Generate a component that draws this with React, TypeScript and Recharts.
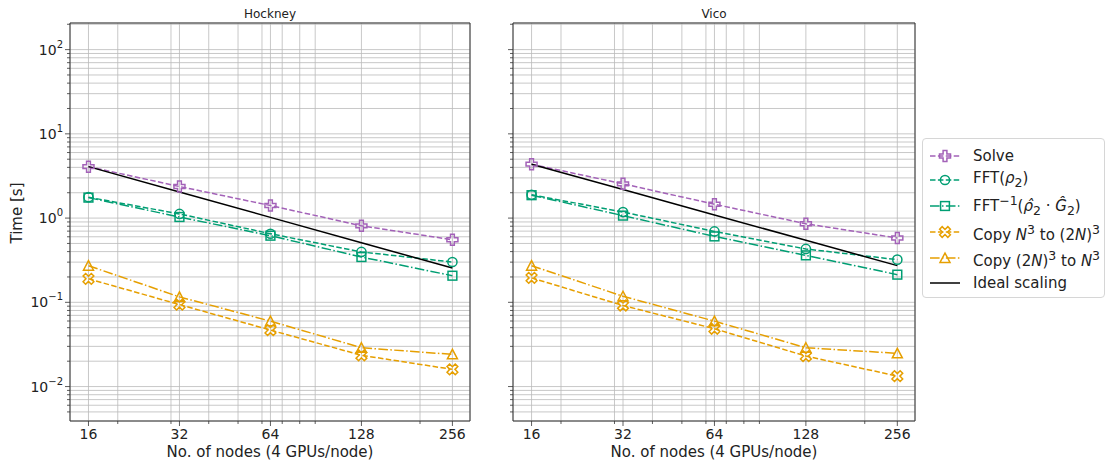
import { LineChart, Line, XAxis, YAxis, CartesianGrid, ReferenceArea } from "recharts"

const nodes = [16, 32, 64, 128, 256]

const hockneySolve = [4.08, 2.37, 1.41, 0.81, 0.553]
const hockneyFft = [1.77, 1.12, 0.652, 0.396, 0.301]
const hockneyIfft = [1.75, 1.03, 0.618, 0.345, 0.207]
const hockneyCopyUp = [0.19, 0.094, 0.0468, 0.0235, 0.016]
const hockneyCopyDown = [0.272, 0.116, 0.0598, 0.0289, 0.0241]
const hockneyIdeal = [4.08, 2.04, 1.02, 0.51, 0.255]

const vicoSolve = [4.36, 2.55, 1.46, 0.856, 0.58]
const vicoFft = [1.89, 1.18, 0.694, 0.43, 0.321]
const vicoIfft = [1.87, 1.07, 0.606, 0.361, 0.213]
const vicoCopyUp = [0.195, 0.0916, 0.0486, 0.023, 0.0133]
const vicoCopyDown = [0.272, 0.118, 0.0598, 0.0289, 0.0248]
const vicoIdeal = [4.36, 2.18, 1.09, 0.545, 0.2725]

const xMajor = [16, 32, 64, 128, 256]
const xMinor = [20, 30, 40, 50, 60, 70, 80, 90, 200]
const yMajor = [0.01, 0.1, 1, 10, 100]
const yMinor = [
  0.005, 0.006, 0.007, 0.008, 0.009,
  0.02, 0.03, 0.04, 0.05, 0.06, 0.07, 0.08, 0.09,
  0.2, 0.3, 0.4, 0.5, 0.6, 0.7, 0.8, 0.9,
  2, 3, 4, 5, 6, 7, 8, 9,
  20, 30, 40, 50, 60, 70, 80, 90,
  200,
]

const X_DOMAIN: [number, number] = [13.9, 292.7]
const Y_DOMAIN: [number, number] = [0.0039, 207]

const PURPLE = "#a362b8"
const GREEN = "#009e73"
const ORANGE = "#e69f00"
const FONT = "DejaVu Sans, sans-serif"
const DASH = "5.5 2.4"
const DASHDOT = "9.6 2.4 1.5 2.4"

const xTicks = [...xMajor, ...xMinor].sort((a, b) => a - b)
const yTicks = [...yMajor, ...yMinor].sort((a, b) => a - b)

function buildRows(solve: number[], fft: number[], ifft: number[], up: number[], down: number[], ideal: number[]) {
  return nodes.map((n, i) => ({
    n,
    solve: solve[i],
    fft: fft[i],
    ifft: ifft[i],
    up: up[i],
    down: down[i],
    ideal: ideal[i],
  }))
}

const hockneyRows = buildRows(hockneySolve, hockneyFft, hockneyIfft, hockneyCopyUp, hockneyCopyDown, hockneyIdeal)
const vicoRows = buildRows(vicoSolve, vicoFft, vicoIfft, vicoCopyUp, vicoCopyDown, vicoIdeal)

type Shape = "plus" | "circle" | "square" | "x" | "triangle"

function plusPath(cx: number, cy: number, s: number, a: number) {
  return `M${cx - a},${cy - s}H${cx + a}V${cy - a}H${cx + s}V${cy + a}H${cx + a}V${cy + s}H${cx - a}V${cy + a}H${cx - s}V${cy - a}H${cx - a}Z`
}

function Marker({ shape, cx, cy, color }: { shape: Shape; cx: number; cy: number; color: string }) {
  const common = { fill: "none", stroke: color, strokeWidth: 1.5 }
  if (shape === "plus") return <path d={plusPath(cx, cy, 5.5, 1.9)} {...common} />
  if (shape === "x")
    return <path d={plusPath(cx, cy, 5.8, 1.8)} transform={`rotate(45 ${cx} ${cy})`} {...common} />
  if (shape === "circle") return <circle cx={cx} cy={cy} r={4.6} {...common} />
  if (shape === "square") return <rect x={cx - 4.4} y={cy - 4.4} width={8.8} height={8.8} {...common} />
  return <path d={`M${cx},${cy - 5}L${cx + 5},${cy + 4.5}L${cx - 5},${cy + 4.5}Z`} {...common} />
}

const dotFor = (shape: Shape, color: string) => (p: any) => (
  <g key={`${shape}-${p.index}`}>
    <Marker shape={shape} cx={p.cx} cy={p.cy} color={color} />
  </g>
)

function fmtExp(v: number) {
  const e = Math.round(Math.log10(v))
  return e < 0 ? "\u2212" + -e : String(e)
}

function YTick(props: any) {
  const { x, y, payload, showLabel } = props
  const v = payload.value
  const major = yMajor.includes(v)
  return (
    <g>
      <line x1={x} x2={x - (major ? 5 : 3)} y1={y} y2={y} stroke="#333" strokeWidth={0.8} />
      {major && showLabel && (
        <text x={x - 7} y={y + 5} textAnchor="end" fontSize={14} fill="#222" fontFamily={FONT}>
          <tspan>10</tspan>
          <tspan dy={-7} fontSize={10}>{fmtExp(v)}</tspan>
        </text>
      )}
    </g>
  )
}

function XTick(props: any) {
  const { x, y, payload } = props
  const v = payload.value
  const major = xMajor.includes(v)
  return (
    <g>
      <line x1={x} x2={x} y1={y} y2={y + (major ? 5 : 3)} stroke="#333" strokeWidth={0.8} />
      {major && (
        <text x={x} y={y + 18} textAnchor="middle" fontSize={14} fill="#222" fontFamily={FONT}>
          {v}
        </text>
      )}
    </g>
  )
}

function Panel({ rows, yWidth, width, showLabels }: { rows: any[]; yWidth: number; width: number; showLabels: boolean }) {
  return (
    <LineChart width={width} height={465} data={rows} margin={{ top: 23, right: 10, bottom: 0, left: 0 }}>
      <CartesianGrid stroke="#bababa" strokeWidth={0.8} />
      <XAxis
        dataKey="n"
        type="number"
        scale="log"
        domain={X_DOMAIN}
        allowDataOverflow
        ticks={xTicks}
        interval={0}
        tickSize={0}
        tickMargin={0}
        tickLine={false}
        axisLine={false}
        height={44}
        tick={<XTick />}
      />
      <YAxis
        type="number"
        scale="log"
        domain={Y_DOMAIN}
        allowDataOverflow
        ticks={yTicks}
        interval={0}
        tickSize={0}
        tickMargin={0}
        tickLine={false}
        axisLine={false}
        width={yWidth}
        tick={<YTick showLabel={showLabels} />}
      />
      <Line dataKey="solve" stroke={PURPLE} strokeWidth={1.5} strokeDasharray={DASH} dot={dotFor("plus", PURPLE)} isAnimationActive={false} />
      <Line dataKey="fft" stroke={GREEN} strokeWidth={1.5} strokeDasharray={DASH} dot={dotFor("circle", GREEN)} isAnimationActive={false} />
      <Line dataKey="ifft" stroke={GREEN} strokeWidth={1.5} strokeDasharray={DASHDOT} dot={dotFor("square", GREEN)} isAnimationActive={false} />
      <Line dataKey="up" stroke={ORANGE} strokeWidth={1.5} strokeDasharray={DASH} dot={dotFor("x", ORANGE)} isAnimationActive={false} />
      <Line dataKey="down" stroke={ORANGE} strokeWidth={1.5} strokeDasharray={DASHDOT} dot={dotFor("triangle", ORANGE)} isAnimationActive={false} />
      <Line dataKey="ideal" stroke="#000" strokeWidth={1.5} dot={false} isAnimationActive={false} />
      <ReferenceArea
        x1={X_DOMAIN[0]}
        x2={X_DOMAIN[1]}
        y1={Y_DOMAIN[0]}
        y2={Y_DOMAIN[1]}
        fill="none"
        stroke="#333"
        strokeWidth={1}
        ifOverflow="visible"
      />
    </LineChart>
  )
}

const legendItems: { shape: Shape | null; color: string; dash?: string; label: React.ReactNode; y: number }[] = [
  { shape: "plus", color: PURPLE, dash: DASH, label: "Solve", y: 156 },
  { shape: "circle", color: GREEN, dash: DASH, label: <>FFT(<i>ρ</i><sub>2</sub>)</>, y: 180 },
  {
    shape: "square",
    color: GREEN,
    dash: DASHDOT,
    label: <>FFT<sup>−1</sup>(<i>ρ̂</i><sub>2</sub> · <i>Ĝ</i><sub>2</sub>)</>,
    y: 206,
  },
  { shape: "x", color: ORANGE, dash: DASH, label: <>Copy <i>N</i><sup>3</sup> to (2<i>N</i>)<sup>3</sup></>, y: 232 },
  { shape: "triangle", color: ORANGE, dash: DASHDOT, label: <>Copy (2<i>N</i>)<sup>3</sup> to <i>N</i><sup>3</sup></>, y: 258 },
  { shape: null, color: "#000", label: "Ideal scaling", y: 283 },
]

function LegendBox() {
  return (
    <>
      <div
        style={{
          position: "absolute",
          left: 922,
          top: 138,
          width: 183,
          height: 160,
          border: "1px solid #d6d6d6",
          borderRadius: 4,
          background: "#fff",
          boxSizing: "border-box",
        }}
      />
      {legendItems.map((it, i) => (
        <div key={i} style={{ position: "absolute", left: 928, top: it.y - 12, height: 24, display: "flex", alignItems: "center" }}>
          <svg width={36} height={24} style={{ display: "block" }}>
            <line x1={2} x2={32} y1={12} y2={12} stroke={it.color} strokeWidth={1.5} strokeDasharray={it.dash} />
            {it.shape && <Marker shape={it.shape} cx={17} cy={12} color={it.color} />}
          </svg>
          <span style={{ marginLeft: 9, fontSize: 15, fontFamily: FONT, color: "#222", whiteSpace: "nowrap", lineHeight: "18px" }}>
            {it.label}
          </span>
        </div>
      ))}
    </>
  )
}

const textStyle = { position: "absolute" as const, fontFamily: FONT, color: "#222", textAlign: "center" as const, whiteSpace: "nowrap" as const }

export default function App() {
  return (
    <div style={{ position: "absolute", left: 0, top: 0, width: 1110, height: 465, background: "#fff", overflow: "hidden" }}>
      <div style={{ position: "absolute", left: 0, top: 0 }}>
        <Panel rows={hockneyRows} yWidth={70} width={480} showLabels />
      </div>
      <div style={{ position: "absolute", left: 480, top: 0 }}>
        <Panel rows={vicoRows} yWidth={33} width={445} showLabels={false} />
      </div>
      <div style={{ ...textStyle, left: 170, width: 200, top: 6, fontSize: 12, lineHeight: "16px" }}>Hockney</div>
      <div style={{ ...textStyle, left: 614, width: 200, top: 6, fontSize: 12, lineHeight: "16px" }}>Vico</div>
      <div style={{ ...textStyle, left: 120, width: 300, top: 444, fontSize: 15, lineHeight: "17px" }}>No. of nodes (4 GPUs/node)</div>
      <div style={{ ...textStyle, left: 564, width: 300, top: 444, fontSize: 15, lineHeight: "17px" }}>No. of nodes (4 GPUs/node)</div>
      <div
        style={{
          ...textStyle,
          left: 17 - 60,
          top: 213 - 9,
          width: 120,
          fontSize: 15,
          lineHeight: "18px",
          transform: "rotate(-90deg)",
        }}
      >
        Time [s]
      </div>
      <LegendBox />
    </div>
  )
}
